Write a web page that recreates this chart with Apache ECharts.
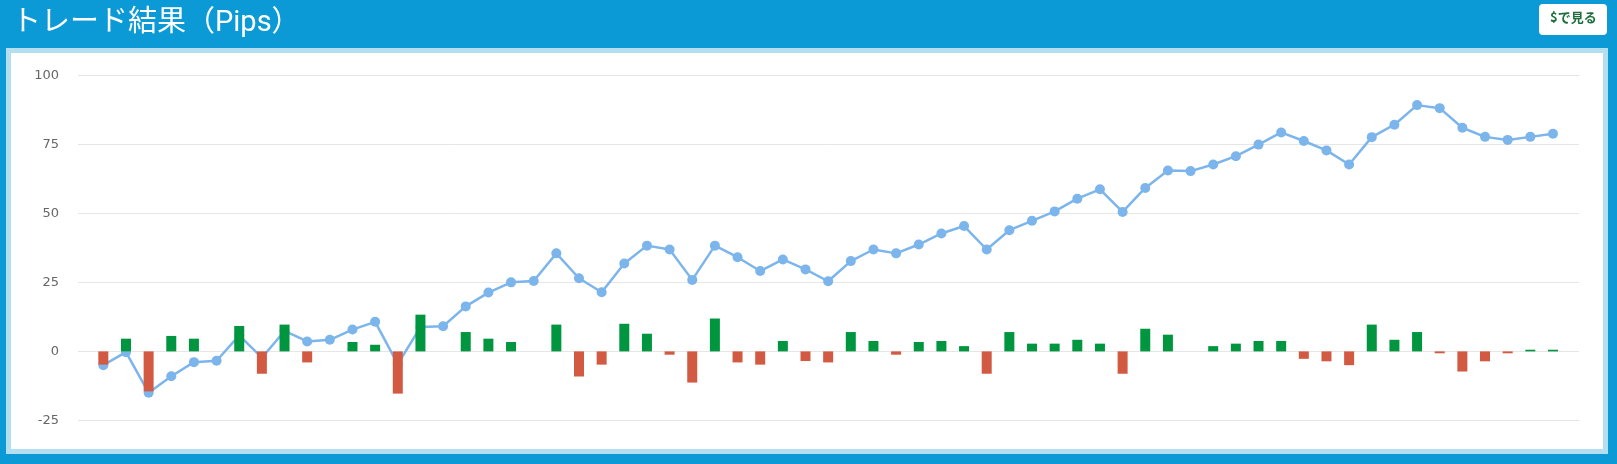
<!DOCTYPE html>
<html>
<head>
<meta charset="utf-8">
<script src="https://cdn.jsdelivr.net/npm/echarts@6/dist/echarts.min.js"></script>
<style>
html,body{margin:0;padding:0;background:#0b9ad6;}
#c{width:1617px;height:464px;}
</style>
</head>
<body>
<div id="c"></div>
<script>
const titleText = 'トレード結果（Pips）';
const buttonText = '$で見る';
const categories = ['1','2','3','4','5','6','7','8','9','10','11','12','13','14','15','16','17','18','19','20',
  '21','22','23','24','25','26','27','28','29','30','31','32','33','34','35','36','37','38','39','40',
  '41','42','43','44','45','46','47','48','49','50','51','52','53','54','55','56','57','58','59','60',
  '61','62','63','64','65'];
const tradePips = [-4.8, 4.6, -14.5, 5.6, 4.6, 0, 9.2, -8.1, 9.7, -4.0,
  0, 3.4, 2.4, -15.3, 13.3, 0, 7.0, 4.6, 3.4, 0,
  9.7, -9.1, -4.8, 10.0, 6.4, -1.2, -11.3, 11.9, -4.0, -4.8,
  3.75, -3.5, -4.0, 7.0, 3.75, -1.2, 3.4, 3.75, 1.9, -8.1,
  7.0, 2.8, 2.8, 4.2, 2.8, -8.1, 8.2, 6.05, 0, 1.9,
  2.8, 3.75, 3.75, -2.7, -3.6, -5.0, 9.7, 4.2, 7.0, -0.7,
  -7.3, -3.6, -0.7, 0.6, 0.6];
const cumulativePips = [-5.0, -0.3, -15.0, -9.0, -3.9, -3.4, 5.8, -2.3, 7.4, 3.6,
  4.2, 7.9, 10.7, -4.6, 8.8, 9.1, 16.3, 21.3, 25.0, 25.5,
  35.5, 26.5, 21.4, 31.8, 38.3, 36.9, 25.9, 38.3, 34.1, 29.1,
  33.3, 29.7, 25.4, 32.7, 36.9, 35.5, 38.7, 42.7, 45.4, 36.9,
  43.9, 47.3, 50.7, 55.3, 58.7, 50.5, 59.2, 65.5, 65.3, 67.7,
  70.7, 74.9, 79.3, 76.2, 72.8, 67.7, 77.6, 82.1, 89.2, 88.1,
  81.0, 77.7, 76.6, 77.7, 78.8];
const yMin = -25, yMax = 100, yStep = 25;

const chart = echarts.init(document.getElementById('c'), null, {renderer: 'canvas'});
const gridTop = 75.3, gridBottom = 43.6;
chart.setOption({
  animation: false,
  backgroundColor: '#0b9ad6',
  title: {
    text: titleText,
    left: 12, top: 9, padding: 0,
    textStyle: {color: '#ffffff', fontSize: 29, fontWeight: 'normal', fontFamily: 'Roboto, "Noto Sans CJK JP", sans-serif'}
  },
  graphic: [
    {type: 'rect', z: -10, silent: true, shape: {x: 6, y: 48, width: 1602, height: 406}, style: {fill: '#b3dff1'}},
    {type: 'rect', z: -9, silent: true, shape: {x: 11, y: 53, width: 1592, height: 396}, style: {fill: '#ffffff'}},
    {type: 'rect', silent: true, shape: {x: 1539, y: 4, width: 68, height: 31, r: 4}, style: {fill: '#ffffff'}},
    {type: 'text', silent: true, left: 1550, top: 11,
      style: {text: buttonText, fill: '#1f6e3c', font: 'bold 13px "Noto Sans CJK JP", sans-serif'}}
  ],
  grid: [
    {left: 78, right: 38, top: gridTop, bottom: gridBottom},
    {left: 92, right: 52.7, top: gridTop, bottom: gridBottom}
  ],
  xAxis: [
    {gridIndex: 0, type: 'value', min: 0, max: 1, show: false},
    {gridIndex: 1, type: 'category', data: categories, show: false, boundaryGap: true}
  ],
  yAxis: [
    {gridIndex: 0, type: 'value', min: yMin, max: yMax, interval: yStep,
      axisLine: {show: false}, axisTick: {show: false},
      axisLabel: {color: '#666666', fontSize: 13, margin: 19, fontFamily: '"DejaVu Sans", Verdana, sans-serif'},
      splitLine: {lineStyle: {color: '#e6e6e6', width: 1}}},
    {gridIndex: 1, type: 'value', min: yMin, max: yMax, interval: yStep, show: false, splitLine: {show: false}}
  ],
  series: [
    {
      type: 'line', name: '累計', xAxisIndex: 1, yAxisIndex: 1, z: 2,
      data: cumulativePips,
      symbol: 'circle', symbolSize: 10, showSymbol: true,
      lineStyle: {color: '#7cb5ec', width: 2.5},
      itemStyle: {color: '#7cb5ec'}
    },
    {
      type: 'bar', name: 'Pips', xAxisIndex: 1, yAxisIndex: 1, z: 3,
      data: tradePips,
      barWidth: 10,
      itemStyle: {
        color: function (p) { return p.value >= 0 ? '#00963f' : '#d35a42'; }
      }
    }
  ]
});
</script>
</body>
</html>
